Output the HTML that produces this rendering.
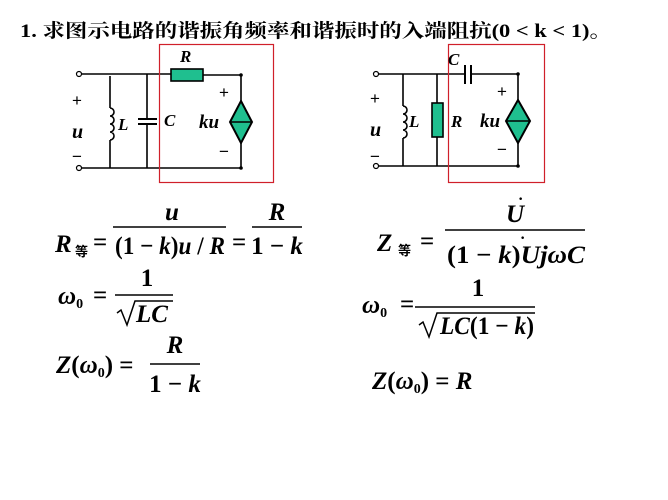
<!DOCTYPE html>
<html><head><meta charset="utf-8"><style>
html,body{margin:0;padding:0;background:#fff;}
svg{display:block;}
.m{font-family:"Liberation Serif",serif;font-weight:bold;font-style:italic;font-size:25px;fill:#000;}
.n{font-style:normal;}
.c{font-family:"Liberation Serif",serif;font-weight:bold;font-style:italic;font-size:17px;}
</style></head><body>
<svg width="668" height="500" viewBox="0 0 668 500" xmlns="http://www.w3.org/2000/svg">
<text x="20" y="37" font-family="Liberation Serif, Noto Serif CJK SC, serif" font-size="19" font-weight="bold" textLength="592" lengthAdjust="spacingAndGlyphs">1. 求图示电路的谐振角频率和谐振时的入端阻抗(0 &lt; k &lt; 1)。</text>

<!-- circuit 1 -->
<g stroke="#000" stroke-width="1.6" fill="none">
<line x1="81" y1="74" x2="171" y2="74"/><line x1="203" y1="75" x2="241" y2="75"/>
<line x1="81" y1="168" x2="241" y2="168"/>
<line x1="110" y1="76" x2="110" y2="108"/><line x1="110" y1="140" x2="110" y2="168"/>
<path d="M110 108 a4 4 0 0 1 0 8 a4 4 0 0 1 0 8 a4 4 0 0 1 0 8 a4 4 0 0 1 0 8"/>
<line x1="147" y1="74" x2="147" y2="119"/><line x1="147" y1="123" x2="147" y2="168"/>
<line x1="138" y1="119" x2="157" y2="119" stroke-width="2"/><line x1="138" y1="124" x2="157" y2="124" stroke-width="2"/>
<line x1="241" y1="75" x2="241" y2="101"/><line x1="241" y1="143" x2="241" y2="168"/>
</g>
<rect x="171" y="69" width="32" height="12" fill="#1fbf8f" stroke="#000" stroke-width="1.6"/>
<polygon points="241,101 252,122 241,143 230,122" fill="#1fbf8f" stroke="#000" stroke-width="2"/>
<line x1="230" y1="122" x2="252" y2="122" stroke="#000" stroke-width="1.6"/>
<circle cx="79" cy="74" r="2.5" fill="#fff" stroke="#000" stroke-width="1.2"/>
<circle cx="79" cy="168" r="2.5" fill="#fff" stroke="#000" stroke-width="1.2"/>
<circle cx="241" cy="75" r="1.8"/><circle cx="241" cy="168" r="1.8"/>
<rect x="159.5" y="44.5" width="114" height="138" fill="none" stroke="#d0202a" stroke-width="1.2"/>
<g class="c"><text x="180" y="62">R</text><text x="118" y="130">L</text><text x="164" y="126">C</text>
<text x="199" y="128" font-size="19">ku</text><text x="72" y="138" font-size="20">u</text></g>
<g font-family="Liberation Sans,sans-serif" font-size="17"><text x="72" y="106">+</text><text x="219" y="98">+</text><text x="72" y="162">−</text><text x="219" y="157">−</text></g>

<!-- circuit 2 -->
<g stroke="#000" stroke-width="1.6" fill="none">
<line x1="378" y1="74" x2="465" y2="74"/><line x1="471" y1="74" x2="518" y2="74"/>
<line x1="378" y1="166" x2="518" y2="166"/>
<line x1="403" y1="74" x2="403" y2="106"/><line x1="403" y1="138" x2="403" y2="166"/>
<path d="M403 106 a4 4 0 0 1 0 8 a4 4 0 0 1 0 8 a4 4 0 0 1 0 8 a4 4 0 0 1 0 8"/>
<line x1="437" y1="74" x2="437" y2="103"/><line x1="437" y1="137" x2="437" y2="166"/>
<line x1="465" y1="65" x2="465" y2="84" stroke-width="2"/><line x1="471" y1="65" x2="471" y2="84" stroke-width="2"/>
<line x1="518" y1="74" x2="518" y2="100"/><line x1="518" y1="143" x2="518" y2="166"/>
</g>
<rect x="432" y="103" width="11" height="34" fill="#1fbf8f" stroke="#000" stroke-width="1.6"/>
<polygon points="518,100 530,121 518,143 506,121" fill="#1fbf8f" stroke="#000" stroke-width="2"/>
<line x1="506" y1="121" x2="530" y2="121" stroke="#000" stroke-width="1.6"/>
<circle cx="376" cy="74" r="2.5" fill="#fff" stroke="#000" stroke-width="1.2"/>
<circle cx="376" cy="166" r="2.5" fill="#fff" stroke="#000" stroke-width="1.2"/>
<circle cx="518" cy="74" r="1.8"/><circle cx="518" cy="166" r="1.8"/>
<rect x="448.5" y="44.5" width="96" height="138" fill="none" stroke="#d0202a" stroke-width="1.2"/>
<g class="c"><text x="448" y="65">C</text><text x="409" y="127">L</text><text x="451" y="127">R</text>
<text x="480" y="127" font-size="19">ku</text><text x="370" y="136" font-size="20">u</text></g>
<g font-family="Liberation Sans,sans-serif" font-size="17"><text x="370" y="104">+</text><text x="497" y="97">+</text><text x="370" y="162">−</text><text x="497" y="155">−</text></g>

<!-- equations left -->
<g class="m">
<text x="55" y="252">R</text>
<text x="75" y="256" font-family="Noto Sans CJK SC,sans-serif" font-size="13" font-style="normal">等</text>
<text x="93" y="250" class="n">=</text>
<text x="172" y="220" text-anchor="middle">u</text>
<line x1="113" y1="227" x2="226" y2="227" stroke="#000" stroke-width="1.6"/>
<text x="115" y="254" textLength="110" lengthAdjust="spacingAndGlyphs"><tspan class="n">(1 − </tspan>k<tspan class="n">)</tspan>u<tspan class="n"> / </tspan>R</text>
<text x="232" y="250" class="n">=</text>
<text x="277" y="220" text-anchor="middle">R</text>
<line x1="252" y1="227" x2="302" y2="227" stroke="#000" stroke-width="1.6"/>
<text x="277" y="254" text-anchor="middle"><tspan class="n">1 − </tspan>k</text>

<text x="58" y="304">ω<tspan font-size="14" class="n" dy="4">0</tspan></text>
<text x="93" y="303" class="n">=</text>
<text x="147" y="286" text-anchor="middle" class="n">1</text>
<line x1="115" y1="295" x2="173" y2="295" stroke="#000" stroke-width="1.6"/>
<path d="M117 313 l4 -3 l6 15 l8 -24 h38" fill="none" stroke="#000" stroke-width="1.5"/>
<text x="136" y="322">LC</text>

<text x="56" y="373">Z<tspan class="n">(</tspan>ω<tspan font-size="14" class="n" dy="4">0</tspan><tspan class="n" dy="-4">) =</tspan></text>
<text x="175" y="353" text-anchor="middle">R</text>
<line x1="150" y1="364" x2="200" y2="364" stroke="#000" stroke-width="1.6"/>
<text x="175" y="392" text-anchor="middle"><tspan class="n">1 − </tspan>k</text>
</g>

<!-- equations right -->
<g class="m">
<text x="377" y="251">Z</text>
<text x="398" y="255" font-family="Noto Sans CJK SC,sans-serif" font-size="13" font-style="normal">等</text>
<text x="420" y="249" class="n">=</text>
<text x="515" y="222" text-anchor="middle">U</text><text x="518" y="204" class="n" font-size="16">·</text>
<line x1="445" y1="230" x2="585" y2="230" stroke="#000" stroke-width="1.6"/>
<text x="447" y="263" textLength="138" lengthAdjust="spacingAndGlyphs"><tspan class="n">(1 − </tspan>k<tspan class="n">)</tspan>UjωC</text>
<text x="520" y="243" class="n" font-size="16">·</text>

<text x="362" y="313">ω<tspan font-size="14" class="n" dy="4">0</tspan></text>
<text x="400" y="312" class="n">=</text>
<text x="478" y="296" text-anchor="middle" class="n">1</text>
<line x1="415" y1="307" x2="535" y2="307" stroke="#000" stroke-width="1.6"/>
<path d="M419 325 l4 -3 l6 15 l8 -24 h98" fill="none" stroke="#000" stroke-width="1.5"/>
<text x="440" y="334" textLength="94" lengthAdjust="spacingAndGlyphs">LC<tspan class="n">(1 − </tspan>k<tspan class="n">)</tspan></text>

<text x="372" y="389">Z<tspan class="n">(</tspan>ω<tspan font-size="14" class="n" dy="4">0</tspan><tspan class="n" dy="-4">) = </tspan>R</text>
</g>
</svg>
</body></html>
